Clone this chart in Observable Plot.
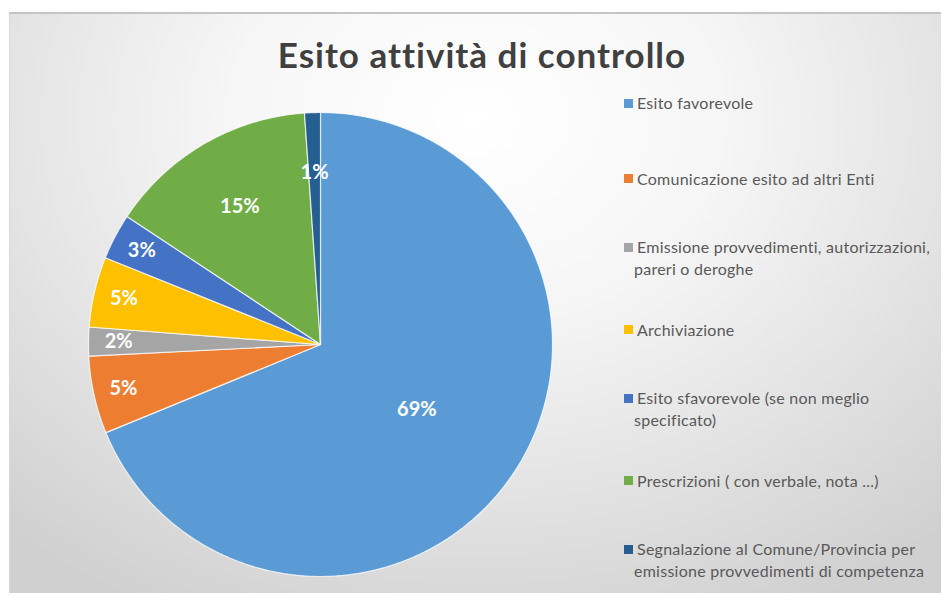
<!DOCTYPE html>
<html>
<head>
<meta charset="utf-8">
<script src="https://cdn.jsdelivr.net/npm/d3@7"></script>
<script src="https://cdn.jsdelivr.net/npm/@observablehq/plot@0.6"></script>
<style>
  html, body { margin: 0; padding: 0; background: #ffffff; }
  #page { position: relative; width: 942px; height: 596px; overflow: hidden; background: #ffffff; font-family: Lato, "Open Sans", sans-serif; }
  #frame { position: absolute; left: 9px; top: 12px; width: 932px; height: 581px; box-sizing: border-box;
    border-top: 2px solid #c4c4c4; border-left: 1px solid #d8d8d8;
    background: radial-gradient(ellipse 75% 95% at 50% 18%, #ffffff 0%, #f6f6f6 35%, #e2e2e2 70%, #d0d0d0 100%); }
  #title { position: absolute; left: 11px; width: 942px; top: 33px; text-align: center; font-size: 35px; font-weight: 700; color: #404040; letter-spacing: 1px; }
  #chart { position: absolute; left: 85px; top: 109px; }
  .lg-sw { position: absolute; width: 9px; height: 9px; }
  .lg-tx { position: absolute; font-size: 16px; color: #595959; white-space: nowrap; line-height: 20px; letter-spacing: 0.25px; }
</style>
</head>
<body>
<div id="page">
  <div id="frame"></div>
  <div id="title">Esito attività di controllo</div>
  <div id="chart"></div>
  <div id="legend"></div>
</div>
<script>
// ---- data ----
const categories = [
  "Esito favorevole",
  "Comunicazione esito ad altri Enti",
  "Emissione provvedimenti, autorizzazioni, pareri o deroghe",
  "Archiviazione",
  "Esito sfavorevole (se non meglio specificato)",
  "Prescrizioni ( con verbale, nota ...)",
  "Segnalazione al Comune/Provincia per emissione provvedimenti di competenza"
];
const values = [68.8, 5.4, 2.0, 4.9, 3.2, 14.6, 1.1];
const legendLines = [
  ["Esito favorevole"],
  ["Comunicazione esito ad altri Enti"],
  ["Emissione provvedimenti, autorizzazioni,", "pareri o deroghe"],
  ["Archiviazione"],
  ["Esito sfavorevole (se non meglio", "specificato)"],
  ["Prescrizioni ( con verbale, nota ...)"],
  ["Segnalazione al Comune/Provincia per", "emissione provvedimenti di competenza"]
];
const palette = ["#5B9BD5", "#ED7D31", "#A5A5A5", "#FFC000", "#4472C4", "#70AD47", "#255E91"];

// ---- geometry from data ----
const total = d3.sum(values);
const pie = d3.pie().sort(null).value(d => d)(values);
const slicePoints = [];
const labels = [];
pie.forEach((p, i) => {
  const cat = categories[i];
  const a0 = p.startAngle, a1 = p.endAngle;
  const n = Math.max(2, Math.ceil((a1 - a0) / (Math.PI / 360)));
  slicePoints.push({cat, x: 0, y: 0});
  for (let k = 0; k <= n; k++) {
    const a = a0 + (a1 - a0) * k / n;
    slicePoints.push({cat, x: Math.sin(a), y: Math.cos(a)});
  }
  slicePoints.push({cat, x: 0, y: 0});
  const share = values[i] / total;
  const r = share > 0.5 ? 0.5 : share > 0.1 ? 0.69 : share < 0.015 ? 0.74 : 0.87;
  const m = (a0 + a1) / 2;
  labels.push({cat, x: r * Math.sin(m), y: r * Math.cos(m), text: Math.round(share * 100) + "%"});
});

const size = 470;
const plot = Plot.plot({
  width: size,
  height: size,
  margin: 3,
  style: {background: "transparent", overflow: "visible"},
  x: {domain: [-1, 1], axis: null},
  y: {domain: [-1, 1], axis: null},
  color: {domain: categories, range: palette},
  marks: [
    Plot.line(slicePoints, {x: "x", y: "y", z: "cat", fill: "cat", stroke: "#ffffff", strokeWidth: 1.2, strokeOpacity: 0.75, strokeLinejoin: "round", curve: "linear"}),
    Plot.text(labels, {x: "x", y: "y", text: "text", fill: "#ffffff", fontSize: 20, fontWeight: "bold", fontFamily: "Lato, sans-serif"})
  ]
});
document.getElementById("chart").appendChild(plot);

// ---- legend ----
const legend = document.getElementById("legend");
legendLines.forEach((lines, i) => {
  const yc = 103 + 75.5 * i;
  const y0 = lines.length > 1 ? yc - 7 : yc;
  const sw = document.createElement("div");
  sw.className = "lg-sw";
  sw.style.left = "624px";
  sw.style.top = (y0 - 4.5) + "px";
  sw.style.background = palette[i];
  legend.appendChild(sw);
  lines.forEach((t, j) => {
    const tx = document.createElement("div");
    tx.className = "lg-tx";
    tx.textContent = t;
    tx.style.left = (j === 0 ? 637 : 634) + "px";
    tx.style.top = (y0 - 10 + j * 22) + "px";
    legend.appendChild(tx);
  });
});
</script>
</body>
</html>
